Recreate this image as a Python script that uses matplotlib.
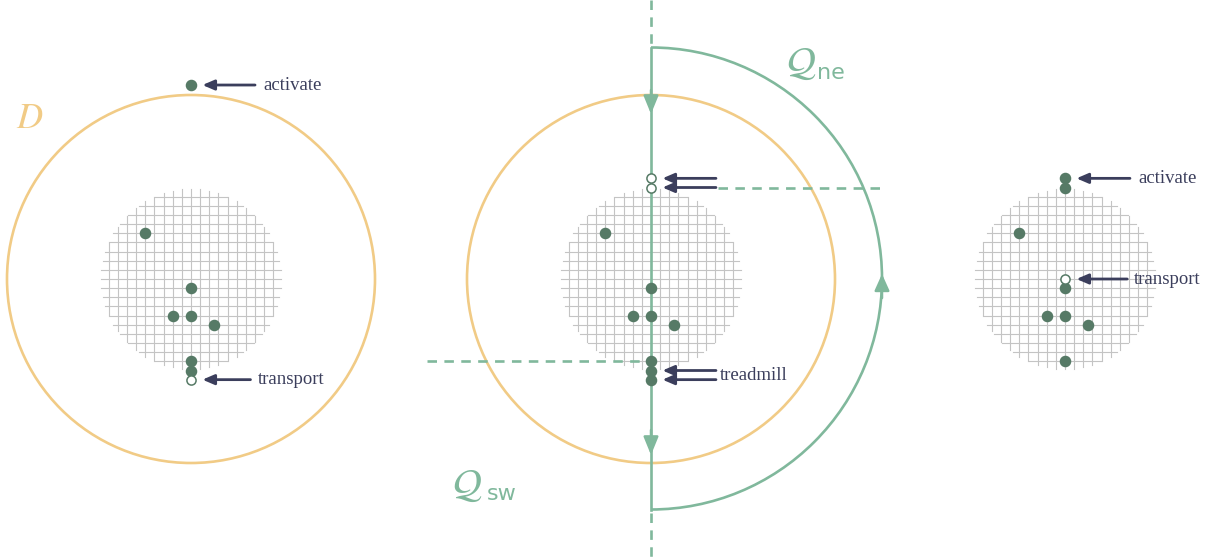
import numpy as np
import matplotlib.pyplot as plt
from matplotlib.patches import Circle, Arc

# colours
ORANGE = '#f1cb86'
GREEN = '#80b89c'
DOT = '#567a66'
NAVY = '#3b3e5c'
GRIDC = '#c4c4c4'

W, H = 1212, 558
UNIT = 9.15      # grid spacing (px)
GRID_R = 90      # radius of gridded disc (px)
D_R = 184        # radius of D
Q_R = 231        # radius of Q_ne arc

panel_x = [191, 651, 1065]
panel_y = 279

# points in grid units, x to the right, y downwards, relative to panel centre
filled = [
    [(-5, -5), (0, 1), (-2, 4), (0, 4), (2.5, 5), (0, 9), (0, 10), (0, -21.2)],
    [(-5, -5), (0, 1), (-2, 4), (0, 4), (2.5, 5), (0, 9), (0, 10), (0, 11)],
    [(0, -11), (0, -10), (-5, -5), (0, 1), (-2, 4), (0, 4), (2.5, 5), (0, 9)],
]
hollow = [
    [(0, 11)],
    [(0, -11), (0, -10)],
    [(0, 0)],
]

# arrows: panel, grid row, tail length (grid units)
arrows = [(0, -21.2, 7.0), (0, 11, 6.5), (1, -11, 7.1), (1, -10, 7.1),
          (1, 10, 7.1), (1, 11, 7.1), (2, -11, 7.1), (2, 0, 6.8)]
# labels: panel, grid row, text, offset
labels = [(0, -21.2, 'activate', 7.9), (0, 11, 'transport', 7.3),
          (1, 10.5, 'treadmill', 7.5), (2, -11, 'activate', 8.0),
          (2, 0, 'transport', 7.5)]


def px(p, gx, gy):
    return panel_x[p] + gx * UNIT, panel_y + gy * UNIT


def draw_grid(ax, cx, cy):
    n = int(GRID_R // UNIT) + 1
    for k in range(-n, n + 1):
        off = k * UNIT
        if abs(off) >= GRID_R:
            continue
        half = np.sqrt(GRID_R ** 2 - off ** 2)
        ax.plot([cx - half, cx + half], [cy + off, cy + off], color=GRIDC, lw=0.8, zorder=1)
        ax.plot([cx + off, cx + off], [cy - half, cy + half], color=GRIDC, lw=0.8, zorder=1)


def arrowhead(ax, x0, y0, x1, y1, color, lw=1.8, hl=0.7, hw=0.3):
    ax.annotate('', xy=(x1, y1), xytext=(x0, y0),
                arrowprops=dict(arrowstyle='-|>,head_length=%g,head_width=%g' % (hl, hw),
                                color=color, lw=lw, shrinkA=0, shrinkB=0,
                                mutation_scale=10), zorder=4)


fig = plt.figure(figsize=(W / 100, H / 100), dpi=100)
ax = fig.add_axes([0, 0, 1, 1])
ax.set_xlim(0, W)
ax.set_ylim(H, 0)
ax.axis('off')

# grids and D circles
for p in range(3):
    draw_grid(ax, panel_x[p], panel_y)
for p in (0, 1):
    ax.add_patch(Circle((panel_x[p], panel_y), D_R, fill=False, ec=ORANGE, lw=1.9, zorder=2))

# Q regions in middle panel
cx = panel_x[1]
top, bot = panel_y - Q_R, panel_y + Q_R
ax.add_patch(Arc((cx, panel_y - 0.5), 2 * Q_R, 2 * Q_R, theta1=-90, theta2=90,
                 ec=GREEN, lw=1.9, zorder=3))
ax.plot([cx, cx], [top, bot], color=GREEN, lw=1.9, zorder=3)
dash = (0, (3.6, 2.8))
ax.plot([cx, cx], [0, top - 3], color=GREEN, lw=1.9, ls=dash, zorder=3)
ax.plot([cx, cx], [bot + 3, H], color=GREEN, lw=1.9, ls=dash, zorder=3)
ax.plot([cx + 67, cx + 230], [panel_y - 10 * UNIT] * 2, color=GREEN, lw=1.9, ls=dash, zorder=3)
ax.plot([cx - 224, cx - 6], [panel_y + 9 * UNIT] * 2, color=GREEN, lw=1.9, ls=dash, zorder=3)
arrowhead(ax, cx, 90, cx, 114, GREEN, hl=1.1, hw=0.45)
arrowhead(ax, cx, 430, cx, 455, GREEN, hl=1.1, hw=0.45)
arrowhead(ax, cx + Q_R, 298, cx + Q_R, 274, GREEN, hl=1.0, hw=0.45)

# points
for p in range(3):
    for gx, gy in filled[p]:
        x, y = px(p, gx, gy)
        ax.plot(x, y, 'o', ms=7.3, mfc=DOT, mec=DOT, zorder=5)
    for gx, gy in hollow[p]:
        x, y = px(p, gx, gy)
        ax.plot(x, y, 'o', ms=6.6, mfc='white', mec=DOT, mew=1.1, zorder=5)

# annotation arrows and labels
for p, gy, tail in arrows:
    x, y = px(p, 0, gy)
    arrowhead(ax, x + tail * UNIT, y, x + 1.25 * UNIT, y, NAVY, lw=2.0)
for p, gy, txt, off in labels:
    x, y = px(p, 0, gy)
    ax.text(x + off * UNIT, y, txt, color=NAVY, fontsize=13.5,
            family='Liberation Serif', ha='left', va='center')

# region names
ax.text(16, 118, r'$D$', color=ORANGE, fontsize=26, math_fontfamily='stix',
        ha='left', va='center')
ax.text(786, 64, r'$\mathcal{Q}$', color=GREEN, fontsize=29, math_fontfamily='stix',
        ha='left', va='center')
ax.text(817, 73, 'ne', color=GREEN, fontsize=16, family='DejaVu Sans',
        ha='left', va='center')
ax.text(452, 486, r'$\mathcal{Q}$', color=GREEN, fontsize=29, math_fontfamily='stix',
        ha='left', va='center')
ax.text(487, 494, 'sw', color=GREEN, fontsize=16, family='DejaVu Sans',
        ha='left', va='center')

fig.savefig('out.png', dpi=100, facecolor='white')
